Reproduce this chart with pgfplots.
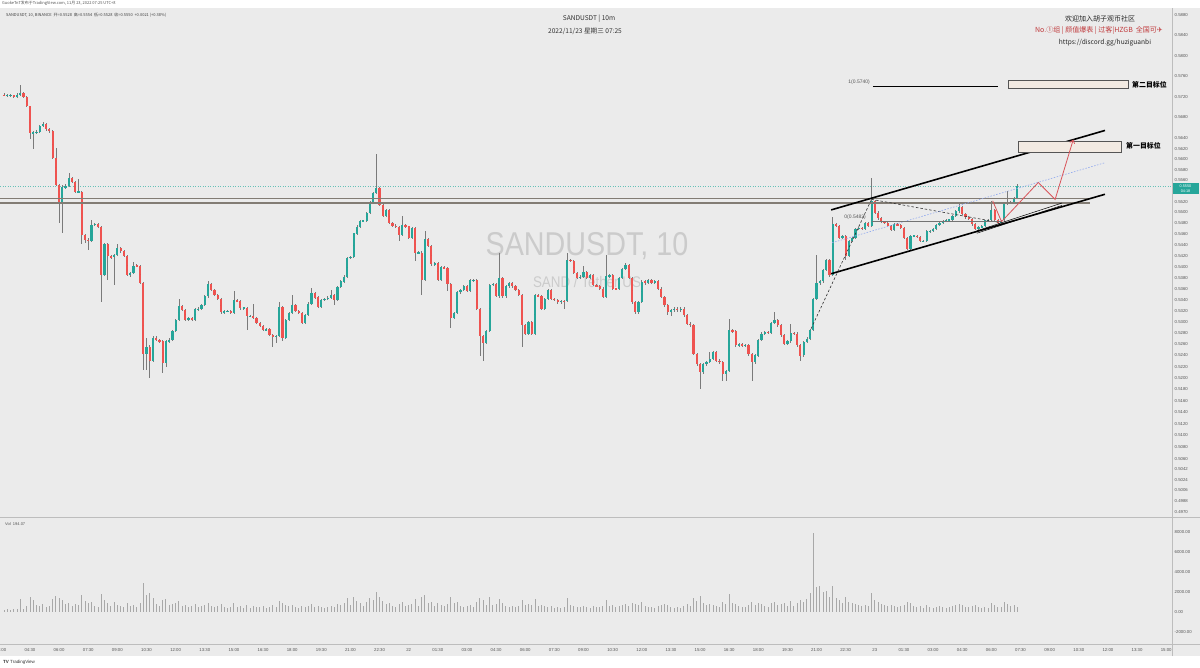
\documentclass[border=0pt]{standalone}
\usepackage{pgfplots}
\pgfplotsset{compat=1.18}
\usepackage{pgfplotstable}
\usetikzlibrary{arrows.meta}
\usepackage{fontspec}
\setmainfont{Liberation Sans}
\newfontfamily\cjk{Noto Sans CJK SC}
\newfontfamily\dejavu{DejaVu Sans}
\definecolor{bg}{HTML}{EBEBEB}
\definecolor{upc}{HTML}{26A69A}
\definecolor{dnc}{HTML}{EF5350}
\definecolor{wick}{HTML}{7A7A7A}
\definecolor{volc}{HTML}{A8A8A8}
\definecolor{tickc}{HTML}{555555}
\definecolor{wm}{HTML}{CBCBCB}
\definecolor{supp}{HTML}{827C74}
\definecolor{boxf}{HTML}{F2EAE2}
\definecolor{boxd}{HTML}{555555}
\definecolor{redl}{HTML}{D9545A}
\definecolor{bluel}{HTML}{8FA8EE}
\definecolor{sepc}{HTML}{BDBDBD}
\definecolor{hzred}{HTML}{C0393B}
\newcommand\tf{\fontsize{4.3}{5}\selectfont}
\pgfplotsset{candle/.style={only marks, mark=*, mark size=0pt, mark options={draw=none, fill=none}}}

\pgfplotstableread{
i o h l c v
-125 0.5724 0.5727 0.5721 0.5723 200
-124 0.5723 0.5725 0.5720 0.5723 300
-123 0.5723 0.5726 0.5719 0.5723 150
-122 0.5723 0.5724 0.5717 0.5719 250
-121 0.5719 0.5728 0.5717 0.5724 300
-120 0.5724 0.5743 0.5722 0.5727 1300
-119 0.5727 0.5729 0.5717 0.5719 300
-118 0.5719 0.5721 0.5700 0.5702 600
-117 0.5702 0.5703 0.5638 0.5651 1500
-116 0.5651 0.5654 0.5619 0.5651 1200
-115 0.5651 0.5656 0.5648 0.5652 700
-114 0.5652 0.5665 0.5650 0.5663 600
-113 0.5663 0.5671 0.5661 0.5668 800
-112 0.5668 0.5669 0.5655 0.5657 500
-111 0.5657 0.5659 0.5651 0.5654 600
-110 0.5654 0.5656 0.5600 0.5603 1300
-109 0.5603 0.5622 0.5549 0.5552 1600
-108 0.5552 0.5553 0.5480 0.5517 1400
-107 0.5517 0.5551 0.5462 0.5548 1200
-106 0.5548 0.5553 0.5545 0.5550 800
-105 0.5550 0.5574 0.5548 0.5565 900
-104 0.5565 0.5567 0.5556 0.5558 600
-103 0.5558 0.5560 0.5537 0.5539 800
-102 0.5539 0.5562 0.5536 0.5539 700
-101 0.5539 0.5541 0.5441 0.5459 1700
-100 0.5459 0.5461 0.5443 0.5450 1100
-99 0.5450 0.5452 0.5431 0.5447 900
-98 0.5447 0.5486 0.5445 0.5477 1000
-97 0.5477 0.5481 0.5475 0.5479 600
-96 0.5479 0.5481 0.5472 0.5474 500
-95 0.5474 0.5476 0.5336 0.5385 1800
-94 0.5385 0.5444 0.5383 0.5441 1200
-93 0.5441 0.5443 0.5376 0.5419 900
-92 0.5419 0.5421 0.5414 0.5417 600
-91 0.5417 0.5424 0.5367 0.5422 1000
-90 0.5422 0.5441 0.5420 0.5434 700
-89 0.5434 0.5437 0.5426 0.5428 600
-88 0.5428 0.5430 0.5417 0.5419 500
-87 0.5419 0.5421 0.5383 0.5385 900
-86 0.5385 0.5390 0.5382 0.5388 600
-85 0.5388 0.5408 0.5386 0.5402 700
-84 0.5402 0.5404 0.5399 0.5401 500
-83 0.5401 0.5403 0.5368 0.5370 900
-82 0.5370 0.5372 0.5215 0.5242 2900
-81 0.5242 0.5271 0.5215 0.5256 1700
-80 0.5256 0.5258 0.5200 0.5230 1900
-79 0.5230 0.5274 0.5228 0.5271 1400
-78 0.5271 0.5274 0.5266 0.5268 800
-77 0.5268 0.5270 0.5263 0.5265 600
-76 0.5265 0.5267 0.5209 0.5227 1200
-75 0.5227 0.5268 0.5220 0.5265 1300
-74 0.5265 0.5271 0.5263 0.5268 700
-73 0.5268 0.5285 0.5266 0.5283 800
-72 0.5283 0.5306 0.5281 0.5304 900
-71 0.5304 0.5342 0.5302 0.5329 1100
-70 0.5329 0.5331 0.5320 0.5322 600
-69 0.5322 0.5324 0.5302 0.5304 700
-68 0.5304 0.5309 0.5302 0.5307 500
-67 0.5307 0.5309 0.5301 0.5303 600
-66 0.5303 0.5325 0.5301 0.5323 800
-65 0.5323 0.5326 0.5320 0.5323 500
-64 0.5323 0.5333 0.5321 0.5330 600
-63 0.5330 0.5348 0.5328 0.5346 700
-62 0.5346 0.5373 0.5344 0.5369 900
-61 0.5369 0.5371 0.5356 0.5358 600
-60 0.5358 0.5360 0.5347 0.5349 500
-59 0.5349 0.5351 0.5340 0.5342 600
-58 0.5342 0.5344 0.5315 0.5317 800
-57 0.5317 0.5321 0.5315 0.5319 500
-56 0.5319 0.5322 0.5317 0.5320 400
-55 0.5320 0.5322 0.5314 0.5316 500
-54 0.5316 0.5355 0.5314 0.5339 900
-53 0.5339 0.5341 0.5336 0.5338 500
-52 0.5338 0.5340 0.5322 0.5325 600
-51 0.5325 0.5327 0.5322 0.5325 400
-50 0.5325 0.5327 0.5286 0.5310 700
-49 0.5310 0.5313 0.5308 0.5311 400
-48 0.5311 0.5333 0.5305 0.5307 600
-47 0.5307 0.5309 0.5296 0.5298 500
-46 0.5298 0.5300 0.5290 0.5292 500
-45 0.5292 0.5294 0.5283 0.5285 600
-44 0.5285 0.5289 0.5283 0.5287 400
-43 0.5287 0.5289 0.5275 0.5277 500
-42 0.5277 0.5279 0.5256 0.5274 700
-41 0.5274 0.5277 0.5262 0.5275 500
-40 0.5275 0.5336 0.5273 0.5327 1100
-39 0.5327 0.5329 0.5265 0.5271 900
-38 0.5271 0.5306 0.5269 0.5304 700
-37 0.5304 0.5318 0.5302 0.5316 600
-36 0.5316 0.5349 0.5314 0.5330 700
-35 0.5330 0.5332 0.5317 0.5319 500
-34 0.5319 0.5321 0.5314 0.5316 400
-33 0.5316 0.5318 0.5296 0.5298 600
-32 0.5298 0.5315 0.5296 0.5313 500
-31 0.5313 0.5335 0.5311 0.5333 600
-30 0.5333 0.5361 0.5331 0.5352 800
-29 0.5352 0.5354 0.5342 0.5344 500
-28 0.5344 0.5346 0.5325 0.5327 600
-27 0.5327 0.5341 0.5325 0.5339 500
-26 0.5339 0.5344 0.5337 0.5342 400
-25 0.5342 0.5346 0.5340 0.5344 500
-24 0.5344 0.5358 0.5342 0.5349 600
-23 0.5349 0.5351 0.5330 0.5339 500
-22 0.5339 0.5365 0.5337 0.5363 800
-21 0.5363 0.5375 0.5361 0.5373 700
-20 0.5373 0.5384 0.5371 0.5382 900
-19 0.5382 0.5418 0.5380 0.5416 1400
-18 0.5416 0.5420 0.5414 0.5418 700
-17 0.5418 0.5463 0.5416 0.5461 1500
-16 0.5461 0.5476 0.5459 0.5474 1100
-15 0.5474 0.5486 0.5472 0.5484 900
-14 0.5484 0.5487 0.5482 0.5485 600
-13 0.5485 0.5501 0.5483 0.5499 1000
-12 0.5499 0.5522 0.5497 0.5520 1400
-11 0.5520 0.5538 0.5518 0.5536 1200
-10 0.5536 0.5610 0.5534 0.5546 2000
-9 0.5546 0.5548 0.5512 0.5514 1500
-8 0.5514 0.5516 0.5491 0.5493 1100
-7 0.5493 0.5507 0.5491 0.5505 800
-6 0.5505 0.5507 0.5478 0.5480 900
-5 0.5480 0.5482 0.5474 0.5476 600
-4 0.5476 0.5478 0.5472 0.5474 500
-3 0.5474 0.5476 0.5447 0.5459 800
-2 0.5459 0.5493 0.5457 0.5477 1000
-1 0.5477 0.5479 0.5472 0.5474 600
0 0.5474 0.5476 0.5451 0.5453 700
1 0.5453 0.5473 0.5451 0.5471 800
2 0.5471 0.5473 0.5410 0.5425 1300
3 0.5425 0.5428 0.5423 0.5426 600
4 0.5426 0.5428 0.5349 0.5376 1500
5 0.5376 0.5465 0.5374 0.5451 1700
6 0.5451 0.5453 0.5436 0.5438 900
7 0.5438 0.5440 0.5402 0.5404 1000
8 0.5404 0.5408 0.5402 0.5406 600
9 0.5406 0.5408 0.5374 0.5376 900
10 0.5376 0.5401 0.5374 0.5399 700
11 0.5399 0.5401 0.5396 0.5398 600
12 0.5398 0.5400 0.5355 0.5369 800
13 0.5369 0.5371 0.5289 0.5307 1500
14 0.5307 0.5318 0.5305 0.5316 900
15 0.5316 0.5355 0.5314 0.5353 1000
16 0.5353 0.5359 0.5351 0.5357 600
17 0.5357 0.5366 0.5355 0.5364 500
18 0.5364 0.5366 0.5353 0.5355 600
19 0.5355 0.5377 0.5353 0.5375 700
20 0.5375 0.5378 0.5373 0.5376 500
21 0.5376 0.5378 0.5321 0.5323 1000
22 0.5323 0.5325 0.5239 0.5274 1400
23 0.5274 0.5276 0.5230 0.5262 1200
24 0.5262 0.5285 0.5260 0.5283 700
25 0.5283 0.5369 0.5281 0.5367 1500
26 0.5367 0.5371 0.5365 0.5369 700
27 0.5369 0.5371 0.5344 0.5346 800
28 0.5346 0.5425 0.5344 0.5379 1300
29 0.5379 0.5381 0.5344 0.5346 900
30 0.5346 0.5366 0.5344 0.5364 600
31 0.5364 0.5373 0.5362 0.5371 500
32 0.5371 0.5373 0.5362 0.5364 600
33 0.5364 0.5366 0.5355 0.5357 500
34 0.5357 0.5359 0.5347 0.5349 600
35 0.5349 0.5351 0.5255 0.5295 1200
36 0.5295 0.5297 0.5276 0.5279 700
37 0.5279 0.5302 0.5277 0.5300 800
38 0.5300 0.5302 0.5276 0.5279 700
39 0.5279 0.5350 0.5277 0.5348 1300
40 0.5348 0.5350 0.5345 0.5347 600
41 0.5347 0.5349 0.5322 0.5324 700
42 0.5324 0.5344 0.5322 0.5342 600
43 0.5342 0.5359 0.5340 0.5357 500
44 0.5357 0.5359 0.5340 0.5342 600
45 0.5342 0.5344 0.5338 0.5340 400
46 0.5340 0.5342 0.5333 0.5336 500
47 0.5336 0.5340 0.5333 0.5338 400
48 0.5338 0.5340 0.5324 0.5337 500
49 0.5337 0.5426 0.5335 0.5413 1400
50 0.5413 0.5415 0.5408 0.5410 700
51 0.5410 0.5412 0.5386 0.5388 600
52 0.5388 0.5390 0.5377 0.5379 500
53 0.5379 0.5384 0.5377 0.5382 500
54 0.5382 0.5401 0.5380 0.5391 600
55 0.5391 0.5393 0.5377 0.5379 500
56 0.5379 0.5386 0.5377 0.5384 400
57 0.5384 0.5386 0.5364 0.5366 600
58 0.5366 0.5368 0.5363 0.5365 500
59 0.5365 0.5367 0.5358 0.5360 500
60 0.5360 0.5362 0.5343 0.5345 600
61 0.5345 0.5422 0.5343 0.5382 1200
62 0.5382 0.5387 0.5380 0.5385 600
63 0.5385 0.5387 0.5358 0.5360 700
64 0.5360 0.5362 0.5357 0.5359 500
65 0.5359 0.5381 0.5357 0.5379 600
66 0.5379 0.5398 0.5377 0.5396 700
67 0.5396 0.5407 0.5394 0.5403 800
68 0.5403 0.5405 0.5377 0.5379 600
69 0.5379 0.5381 0.5333 0.5336 900
70 0.5336 0.5338 0.5315 0.5318 800
71 0.5318 0.5338 0.5315 0.5336 700
72 0.5336 0.5375 0.5334 0.5373 1000
73 0.5373 0.5375 0.5367 0.5370 600
74 0.5370 0.5378 0.5368 0.5376 500
75 0.5376 0.5378 0.5368 0.5370 500
76 0.5370 0.5375 0.5368 0.5373 400
77 0.5373 0.5375 0.5358 0.5360 600
78 0.5360 0.5362 0.5343 0.5345 700
79 0.5345 0.5347 0.5327 0.5330 800
80 0.5330 0.5332 0.5312 0.5318 700
81 0.5318 0.5323 0.5310 0.5321 500
82 0.5321 0.5326 0.5318 0.5324 400
83 0.5324 0.5326 0.5318 0.5321 500
84 0.5321 0.5326 0.5318 0.5324 400
85 0.5324 0.5326 0.5309 0.5312 600
86 0.5312 0.5314 0.5294 0.5297 800
87 0.5297 0.5299 0.5291 0.5294 600
88 0.5294 0.5296 0.5240 0.5243 1400
89 0.5243 0.5245 0.5222 0.5225 1100
90 0.5225 0.5227 0.5180 0.5210 1600
91 0.5210 0.5227 0.5207 0.5225 900
92 0.5225 0.5230 0.5222 0.5228 700
93 0.5228 0.5246 0.5226 0.5234 800
94 0.5234 0.5248 0.5232 0.5246 700
95 0.5246 0.5248 0.5228 0.5231 600
96 0.5231 0.5233 0.5225 0.5228 500
97 0.5228 0.5230 0.5195 0.5207 1000
98 0.5207 0.5215 0.5195 0.5213 800
99 0.5213 0.5306 0.5210 0.5285 1800
100 0.5285 0.5287 0.5280 0.5283 900
101 0.5283 0.5285 0.5255 0.5258 800
102 0.5258 0.5263 0.5255 0.5261 600
103 0.5261 0.5263 0.5255 0.5258 500
104 0.5258 0.5261 0.5255 0.5259 500
105 0.5259 0.5261 0.5240 0.5243 700
106 0.5243 0.5245 0.5195 0.5228 1000
107 0.5228 0.5242 0.5225 0.5240 700
108 0.5240 0.5270 0.5238 0.5268 900
109 0.5268 0.5281 0.5266 0.5279 800
110 0.5279 0.5284 0.5276 0.5282 600
111 0.5282 0.5284 0.5278 0.5280 500
112 0.5280 0.5300 0.5278 0.5298 900
113 0.5298 0.5318 0.5296 0.5303 1000
114 0.5303 0.5305 0.5291 0.5294 700
115 0.5294 0.5296 0.5273 0.5276 800
116 0.5276 0.5278 0.5258 0.5261 900
117 0.5261 0.5267 0.5258 0.5265 600
118 0.5265 0.5297 0.5263 0.5280 1100
119 0.5280 0.5282 0.5276 0.5279 600
120 0.5279 0.5281 0.5255 0.5258 900
121 0.5258 0.5260 0.5231 0.5240 1200
122 0.5240 0.5266 0.5237 0.5264 1000
123 0.5264 0.5272 0.5262 0.5270 1300
124 0.5270 0.5287 0.5268 0.5285 1900
125 0.5285 0.5344 0.5283 0.5342 7950
126 0.5342 0.5422 0.5340 0.5370 2500
127 0.5370 0.5375 0.5367 0.5373 2600
128 0.5373 0.5396 0.5371 0.5394 2000
129 0.5394 0.5415 0.5392 0.5413 2100
130 0.5413 0.5415 0.5382 0.5385 1500
131 0.5385 0.5491 0.5383 0.5478 2600
132 0.5478 0.5480 0.5473 0.5475 1400
133 0.5475 0.5477 0.5451 0.5453 1200
134 0.5453 0.5459 0.5451 0.5457 900
135 0.5457 0.5459 0.5413 0.5419 1500
136 0.5419 0.5449 0.5417 0.5447 1000
137 0.5447 0.5455 0.5445 0.5453 900
138 0.5453 0.5471 0.5451 0.5469 800
139 0.5469 0.5474 0.5467 0.5472 700
140 0.5472 0.5474 0.5467 0.5469 600
141 0.5469 0.5483 0.5467 0.5481 700
142 0.5481 0.5483 0.5473 0.5475 600
143 0.5475 0.5564 0.5473 0.5522 1900
144 0.5522 0.5524 0.5498 0.5500 1200
145 0.5500 0.5502 0.5487 0.5490 1000
146 0.5490 0.5492 0.5480 0.5483 800
147 0.5483 0.5485 0.5479 0.5481 700
148 0.5481 0.5483 0.5473 0.5475 600
149 0.5475 0.5477 0.5465 0.5467 700
150 0.5467 0.5480 0.5465 0.5478 600
151 0.5478 0.5480 0.5475 0.5477 500
152 0.5477 0.5479 0.5469 0.5471 600
153 0.5471 0.5473 0.5451 0.5453 700
154 0.5453 0.5455 0.5430 0.5432 1000
155 0.5432 0.5459 0.5430 0.5457 900
156 0.5457 0.5459 0.5454 0.5457 600
157 0.5457 0.5459 0.5453 0.5455 500
158 0.5455 0.5457 0.5445 0.5447 600
159 0.5447 0.5449 0.5445 0.5447 400
160 0.5447 0.5467 0.5445 0.5465 700
161 0.5465 0.5468 0.5463 0.5466 500
162 0.5466 0.5471 0.5464 0.5469 400
163 0.5469 0.5479 0.5467 0.5477 500
164 0.5477 0.5482 0.5475 0.5480 600
165 0.5480 0.5487 0.5478 0.5485 500
166 0.5485 0.5488 0.5483 0.5486 400
167 0.5486 0.5489 0.5484 0.5487 500
168 0.5487 0.5495 0.5485 0.5493 600
169 0.5493 0.5504 0.5491 0.5502 700
170 0.5502 0.5519 0.5500 0.5511 800
171 0.5511 0.5513 0.5495 0.5497 700
172 0.5497 0.5499 0.5489 0.5491 500
173 0.5491 0.5493 0.5486 0.5488 500
174 0.5488 0.5490 0.5476 0.5478 600
175 0.5478 0.5480 0.5467 0.5469 700
176 0.5469 0.5475 0.5467 0.5473 500
177 0.5473 0.5477 0.5471 0.5475 400
178 0.5475 0.5487 0.5473 0.5485 500
179 0.5485 0.5488 0.5483 0.5486 400
180 0.5486 0.5522 0.5484 0.5504 900
181 0.5504 0.5506 0.5484 0.5486 700
182 0.5486 0.5488 0.5479 0.5481 500
183 0.5481 0.5487 0.5479 0.5485 500
184 0.5485 0.5518 0.5483 0.5516 1000
185 0.5516 0.5541 0.5514 0.5519 800
186 0.5519 0.5521 0.5516 0.5519 600
187 0.5519 0.5529 0.5517 0.5527 700
188 0.5527 0.5554 0.5525 0.5550 500
}\candles

\begin{document}
\begin{tikzpicture}[x=1pt,y=1pt]
\fill[white] (0,0) rectangle (1200,667);
\fill[bg] (0,11) rectangle (1200,658.5);
\node[text=wm, font=\fontsize{33}{33}\selectfont, xscale=0.87, transform shape] at (587,421) {SANDUSDT, 10};
\node[text=wm, font=\fontsize{15.4}{16}\selectfont, xscale=0.87, transform shape] at (587,385) {SAND / Tether US};
\draw[sepc, line width=0.8pt] (0,149.5) -- (1200,149.5);
\draw[sepc, line width=0.6pt] (0,23) -- (1200,23);
\draw[sepc, line width=0.8pt] (1172.5,11) -- (1172.5,658.5);

\begin{axis}[
 at={(0pt,150pt)}, anchor=south west, scale only axis,
 width=1172pt, height=508.5pt,
 xmin=-126.26, xmax=235.8,
 ymin=-0.700994, ymax=-0.528738,
 axis line style={draw=none},
 major tick length=0pt, minor tick length=0pt,
 xtick=\empty,
 ytick={-0.699165,-0.695550,-0.691948,-0.688359,-0.684782,-0.681218,-0.677274,-0.673345,-0.669431,-0.665532,-0.661648,-0.657780,-0.653926,-0.650088,-0.646263,-0.642454,-0.638659,-0.634878,-0.631112,-0.627359,-0.623621,-0.619897,-0.616186,-0.612489,-0.608806,-0.605136,-0.601480,-0.597837,-0.594207,-0.586987,-0.583396,-0.579818,-0.576253,-0.572700,-0.565634,-0.558616,-0.551648,-0.544727,-0.537854,-0.531028},
 yticklabels={0.4970,0.4988,0.5006,0.5024,0.5042,0.5060,0.5080,0.5100,0.5120,0.5140,0.5160,0.5180,0.5200,0.5220,0.5240,0.5260,0.5280,0.5300,0.5320,0.5340,0.5360,0.5380,0.5400,0.5420,0.5440,0.5460,0.5480,0.5500,0.5520,0.5560,0.5580,0.5600,0.5620,0.5640,0.5680,0.5720,0.5760,0.5800,0.5840,0.5880},
 yticklabel pos=right,
 yticklabel style={font=\tf, text=tickc, anchor=west, inner sep=0pt, xshift=2.5pt},
 scaled y ticks=false,
]
% current price line
\addplot[upc!70, line width=0.5pt, dotted] table[x=x, y expr={ln(\thisrow{p})}, row sep=\\] {x p\\ -127 0.5550\\ 236 0.5550\\};
% wicks
\addplot[candle, error bars/.cd, y dir=both, y explicit, error mark=none,
  error bar style={line width=0.6pt, color=wick}]
  table[x=i, y expr={(ln(\thisrow{h})+ln(\thisrow{l}))/2},
        y error plus expr={(ln(\thisrow{h})-ln(\thisrow{l}))/2},
        y error minus expr={(ln(\thisrow{h})-ln(\thisrow{l}))/2}] {\candles};
% up bodies
\addplot[candle, restrict expr to domain={\thisrow{c}-\thisrow{o}}{0:1},
  error bars/.cd, y dir=both, y explicit, error mark=none,
  error bar style={line width=2.2pt, color=upc}]
  table[x=i, y expr={(ln(\thisrow{o})+ln(\thisrow{c}))/2},
        y error plus expr={max(abs(ln(\thisrow{c})-ln(\thisrow{o}))/2,0.00017)},
        y error minus expr={max(abs(ln(\thisrow{c})-ln(\thisrow{o}))/2,0.00017)}] {\candles};
% down bodies
\addplot[candle, restrict expr to domain={\thisrow{c}-\thisrow{o}}{-1:-0.00001},
  error bars/.cd, y dir=both, y explicit, error mark=none,
  error bar style={line width=2.2pt, color=dnc}]
  table[x=i, y expr={(ln(\thisrow{o})+ln(\thisrow{c}))/2},
        y error plus expr={max(abs(ln(\thisrow{c})-ln(\thisrow{o}))/2,0.00017)},
        y error minus expr={max(abs(ln(\thisrow{c})-ln(\thisrow{o}))/2,0.00017)}] {\candles};
% support lines
\addplot[supp, line width=1.5pt] table[x=x, y expr={ln(\thisrow{p})}, row sep=\\] {x p\\ -127 0.55262\\ 210.5 0.55262\\};
\addplot[supp, line width=1.5pt] table[x=x, y expr={ln(\thisrow{p})}, row sep=\\] {x p\\ -127 0.55183\\ 210.5 0.55183\\};
% channel
\addplot[black, line width=1.6pt] table[x=x, y expr={ln(\thisrow{p})}, row sep=\\] {x p\\ 130.5 0.55049\\ 215.1 0.56551\\};
\addplot[black, line width=1.6pt] table[x=x, y expr={ln(\thisrow{p})}, row sep=\\] {x p\\ 130.5 0.53871\\ 215.1 0.55342\\};
\addplot[black, line width=0.5pt] table[x=x, y expr={ln(\thisrow{p})}, row sep=\\] {x p\\ 175.5 0.54663\\ 201.8 0.55178\\};
\addplot[black, line width=0.5pt] table[x=x, y expr={ln(\thisrow{p})}, row sep=\\] {x p\\ 175.5 0.54617\\ 201.8 0.55132\\};
% dashed
\addplot[black!80, line width=0.6pt, dash pattern=on 2.5pt off 2pt] table[x=x, y expr={ln(\thisrow{p})}, row sep=\\] {x p\\ 143.0 0.55247\\ 182.7 0.54815\\};
\addplot[black!80, line width=0.6pt, dash pattern=on 2.5pt off 2pt] table[x=x, y expr={ln(\thisrow{p})}, row sep=\\] {x p\\ 124.3 0.52878\\ 142.8 0.55224\\};
\addplot[bluel, line width=0.6pt, dash pattern=on 1.5pt off 1.5pt] table[x=x, y expr={ln(\thisrow{p})}, row sep=\\] {x p\\ 130.8 0.54442\\ 215.2 0.55940\\};
% fib levels
\addplot[black, line width=0.9pt] table[x=x, y expr={ln(\thisrow{p})}, row sep=\\] {x p\\ 143.4 0.57401\\ 182.0 0.57401\\};
\addplot[black!55, line width=1.2pt] table[x=x, y expr={ln(\thisrow{p})}, row sep=\\] {x p\\ 143.0 0.54834\\ 183.2 0.54834\\};
% target boxes
\addplot[fill=boxf, draw=boxd, line width=0.9pt] table[x=x, y expr={ln(\thisrow{p})}, row sep=\\] {x p\\ 185.2 0.57366\\ 222.3 0.57366\\ 222.3 0.57512\\ 185.2 0.57512\\ 185.2 0.57366\\};
\addplot[fill=boxf, draw=boxd, line width=0.9pt] table[x=x, y expr={ln(\thisrow{p})}, row sep=\\] {x p\\ 188.3 0.56136\\ 220.3 0.56136\\ 220.3 0.56347\\ 188.3 0.56347\\ 188.3 0.56136\\};
% red projection
\addplot[redl, line width=0.8pt] table[x=x, y expr={ln(\thisrow{p})}, row sep=\\] {x p\\ 180.4 0.55218\\ 183.2 0.54823\\};
\addplot[redl, line width=0.8pt, -{Straight Barb[length=3pt,width=5pt]}] table[x=x, y expr={ln(\thisrow{p})}, row sep=\\] {x p\\ 183.2 0.54834\\ 194.5 0.55563\\ 199.7 0.55247\\ 205.3 0.56379\\};
\end{axis}

\begin{axis}[
 at={(0pt,23pt)}, anchor=south west, scale only axis,
 width=1172pt, height=126pt,
 xmin=-126.26, xmax=235.8, ymin=-3249, ymax=9426,
 axis line style={draw=none},
 major tick length=0pt, minor tick length=0pt,
 scaled y ticks=false,
 ytick={-2000,0,2000,4000,6000,8000},
 yticklabels={-2000.00,0.00,2000.00,4000.00,6000.00,8000.00},
 yticklabel pos=right,
 yticklabel style={font=\tf, text=tickc, anchor=west, inner sep=0pt, xshift=2.5pt},
 xtick={-126,-117,...,234},
 xticklabels={03:00,04:30,06:00,07:30,09:00,10:30,12:00,13:30,15:00,16:30,18:00,19:30,21:00,22:30,22,01:30,03:00,04:30,06:00,07:30,09:00,10:30,12:00,13:30,15:00,16:30,18:00,19:30,21:00,22:30,23,01:30,03:00,04:30,06:00,07:30,09:00,10:30,12:00,13:30,15:00},
 xticklabel style={font=\tf, text=tickc, inner sep=0pt, yshift=-4pt},
]
\addplot[ycomb, volc, line width=0.9pt] table[x=i, y=v] {\candles};
\end{axis}

% annotation texts
\node[anchor=east, font=\fontsize{5}{6}\selectfont, text=tickc, inner sep=0pt] at (870,584.7) {1(0.5740)};
\node[anchor=east, font=\fontsize{5}{6}\selectfont, text=tickc, inner sep=0pt] at (866,450) {0(0.5483)};
\node[anchor=west, font=\cjk\bfseries\fontsize{6.9}{8}\selectfont, inner sep=0pt] at (1132,582.5) {第二目标位};
\node[anchor=west, font=\cjk\bfseries\fontsize{6.9}{8}\selectfont, inner sep=0pt] at (1126,521) {第一目标位};

% price label
\fill[upc] (1172.8,473) rectangle (1198.5,484);
\node[text=white, font=\fontsize{3.8}{4}\selectfont, inner sep=0pt] at (1185.5,481) {0.5550};
\node[text=white, font=\fontsize{3.8}{4}\selectfont, inner sep=0pt] at (1185.5,476.3) {04:18};

% header texts
\node[anchor=west, text=tickc, font=\cjk\fontsize{4}{5}\selectfont, inner sep=0pt] at (2,663.3) {GuokeTnT发布于TradingView.com, 11月 23, 2022 07:25 UTC+8};
\node[anchor=west, text=black!75, font=\cjk\fontsize{4}{5}\selectfont, inner sep=0pt] at (6,652) {SANDUSDT, 10, BINANCE\ \ 开=0.5528\ \ 高=0.5554\ \ 低=0.5528\ \ 收=0.5550\ \ +0.0021 (+0.38\%)};
\node[text=black!80, font=\cjk\fontsize{6.6}{8}\selectfont] at (589,648) {SANDUSDT | 10m};
\node[text=black!80, font=\cjk\fontsize{6.6}{8}\selectfont] at (585,636) {2022/11/23 星期三 07:25};
\node[text=black!85, font=\cjk\fontsize{7}{8}\selectfont] at (1100,648) {欢迎加入胡子观币社区};
\node[text=hzred, font=\cjk\fontsize{7}{8}\selectfont] at (1099,636) {No.①组 | 颜值爆表 | 过客|HZGB\ \ 全国可{\dejavu ✈}};
\node[text=black!85, font=\cjk\fontsize{6.6}{8}\selectfont] at (1105,624.7) {https://discord.gg/huziguanbi};
\node[anchor=west, text=tickc, font=\fontsize{4}{5}\selectfont, inner sep=0pt] at (5,143) {Vol\ \ 194.07};
\node[anchor=west, text=black!80, font=\fontsize{4.5}{5}\selectfont, inner sep=0pt] at (3,5) {\textbf{TV}\ TradingView};
\pgfresetboundingbox
\useasboundingbox (0,0) rectangle (1200,667);
\end{tikzpicture}
\end{document}
